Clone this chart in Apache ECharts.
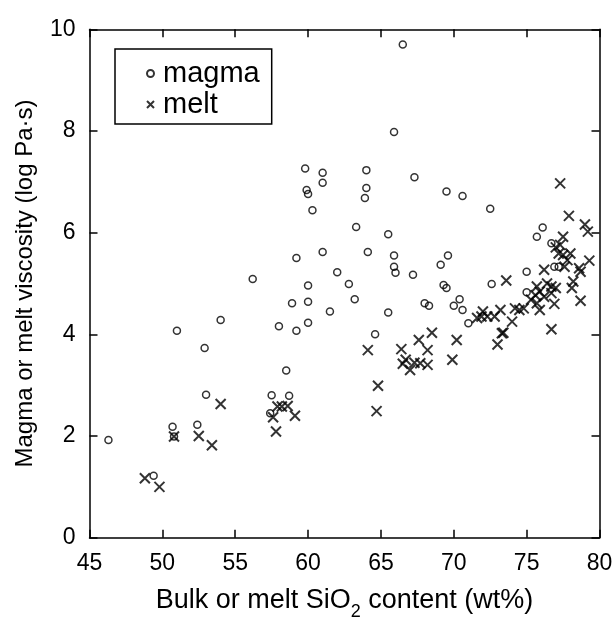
<!DOCTYPE html>
<html>
<head>
<meta charset="utf-8">
<script src="https://cdn.jsdelivr.net/npm/echarts@6/dist/echarts.min.js"></script>
<style>
  html, body { margin: 0; padding: 0; background: #fff; }
  #chart { width: 614px; height: 618px; }
</style>
</head>
<body>
<div id="chart"></div>
<script>
// magma: bulk SiO2 (wt%) vs viscosity (log Pa·s)
const magmaSiO2 = [46.3, 49.4, 50.7, 50.8, 52.4, 53.0, 52.9, 51.0, 54.0, 56.2,
    57.4, 57.5, 58.7, 58.5, 58.0, 59.2, 60.0, 58.9, 60.0, 60.0,
    62.0, 62.8, 63.2, 61.5, 65.5, 64.6, 66.0, 67.2, 65.9, 59.2,
    61.0, 64.1, 65.9, 63.3, 65.5, 60.3, 59.9, 60.0, 59.8, 61.0,
    61.0, 64.0, 64.0, 63.9, 65.9, 66.5, 67.3, 69.5, 70.6, 72.5,
    69.1, 69.6, 69.3, 69.5, 68.0, 68.3, 70.4, 70.0, 70.6, 71.0,
    72.6, 75.0, 75.0, 76.1, 75.7, 76.7, 76.9, 77.2]
const magmaVisc = [1.92, 1.22, 2.18, 1.99, 2.22, 2.81, 3.73, 4.07, 4.28, 5.09,
    2.45, 2.80, 2.79, 3.29, 4.16, 4.07, 4.23, 4.61, 4.64, 4.96,
    5.22, 4.99, 4.69, 4.45, 4.43, 4.00, 5.21, 5.17, 5.33, 5.50,
    5.62, 5.62, 5.55, 6.11, 5.97, 6.44, 6.84, 6.76, 7.26, 7.18,
    6.98, 7.23, 6.88, 6.68, 7.98, 9.70, 7.09, 6.81, 6.72, 6.47,
    5.37, 5.55, 4.97, 4.91, 4.61, 4.56, 4.69, 4.56, 4.48, 4.22,
    4.99, 5.23, 4.83, 6.10, 5.92, 5.79, 5.33, 5.33]

// melt: melt SiO2 (wt%) vs viscosity (log Pa·s)
const meltSiO2 = [48.8, 49.8, 50.8, 52.5, 53.4, 54.0, 57.6, 57.8, 57.9, 58.2,
    58.6, 59.1, 64.1, 64.8, 64.7, 66.4, 66.7, 66.5, 67.0, 67.3,
    67.6, 68.2, 68.2, 67.7, 68.5, 70.2, 69.9, 71.6, 71.9, 72.0,
    72.3, 72.8, 73.2, 73.0, 73.4, 73.3, 73.6, 74.0, 74.2, 74.5,
    74.8, 75.3, 75.7, 75.9, 75.6, 75.9, 76.2, 75.7, 76.4, 76.7,
    77.0, 76.7, 76.9, 76.7, 76.2, 77.0, 77.2, 77.5, 78.0, 77.8,
    77.6, 77.3, 77.5, 77.3, 77.9, 79.0, 79.2, 79.3, 78.7, 78.6,
    78.7, 78.2, 78.1]
const meltVisc = [1.17, 1.00, 1.99, 2.00, 1.82, 2.63, 2.37, 2.09, 2.58, 2.58,
    2.59, 2.40, 3.69, 2.99, 2.49, 3.71, 3.50, 3.42, 3.30, 3.44,
    3.89, 3.69, 3.40, 3.43, 4.03, 3.89, 3.50, 4.32, 4.35, 4.45,
    4.35, 4.35, 4.48, 3.80, 4.03, 4.02, 5.06, 4.25, 4.51, 4.48,
    4.51, 4.68, 4.61, 4.48, 4.77, 4.84, 4.74, 4.94, 5.00, 4.94,
    4.91, 4.81, 4.60, 4.10, 5.27, 5.71, 5.59, 5.56, 5.59, 5.46,
    5.33, 5.76, 5.92, 6.97, 6.33, 6.16, 6.02, 5.45, 4.66, 5.30,
    5.23, 5.04, 4.91]

const xTicks = [45, 50, 55, 60, 65, 70, 75, 80]
const yTicks = [0, 2, 4, 6, 8, 10]

const zip = (xs, ys) => xs.map((x, i) => [x, ys[i]])

const chart = echarts.init(document.getElementById('chart'))

const font = 'Liberation Sans, Arial, sans-serif'
const axisLine = { show: true, onZero: false, lineStyle: { color: '#000', width: 1.5 } }
const tickIn = { show: true, inside: true, length: 8, lineStyle: { color: '#000', width: 1.5 } }

const option = {
    backgroundColor: '#fff',
    animation: false,
    grid: { left: 89.5, right: 14.5, top: 29.3, bottom: 80.3, outerBoundsMode: 'none' },
    xAxis: [{
        type: 'value',
        min: xTicks[0], max: xTicks[xTicks.length - 1], interval: 5,
        axisLine, axisTick: tickIn,
        splitLine: { show: false },
        axisLabel: { color: '#000', fontSize: 23, fontFamily: font, margin: 14 },
        name: 'Bulk or melt SiO{sub|2} content (wt%)',
        nameLocation: 'middle', nameGap: 43,
        nameTextStyle: {
            color: '#000', fontSize: 27, fontFamily: font,
            rich: { sub: { fontSize: 18, fontFamily: font, color: '#000', padding: [22, 0, 0, 0] } }
        }
    }, {
        type: 'value', position: 'top',
        min: xTicks[0], max: xTicks[xTicks.length - 1], interval: 5,
        axisLine, axisTick: tickIn,
        splitLine: { show: false }, axisLabel: { show: false }
    }],
    yAxis: [{
        type: 'value',
        min: yTicks[0], max: yTicks[yTicks.length - 1], interval: 2,
        axisLine, axisTick: tickIn,
        splitLine: { show: false },
        axisLabel: { color: '#000', fontSize: 23, fontFamily: font, margin: 14 },
        name: 'Magma or melt viscosity (log Pa·s)',
        nameLocation: 'middle', nameGap: 52,
        nameTextStyle: { color: '#000', fontSize: 24, fontFamily: font }
    }, {
        type: 'value', position: 'right',
        min: yTicks[0], max: yTicks[yTicks.length - 1], interval: 2,
        axisLine, axisTick: tickIn,
        splitLine: { show: false }, axisLabel: { show: false }
    }],
    legend: {
        orient: 'vertical',
        left: 115, top: 49,
        padding: [10, 12, 5, 31],
        itemGap: 2,
        itemWidth: 7, itemHeight: 7,
        borderColor: '#000', borderWidth: 1.5,
        textStyle: { color: '#000', fontSize: 29, fontFamily: font, padding: [0, 0, 0, 4] },
        data: ['magma', 'melt']
    },
    series: [{
        name: 'magma',
        type: 'scatter',
        data: zip(magmaSiO2, magmaVisc),
        symbol: 'circle',
        symbolSize: 7,
        itemStyle: { color: 'rgba(255,255,255,0)', borderColor: '#000', borderWidth: 1.5 }
    }, {
        name: 'melt',
        type: 'scatter',
        data: zip(meltSiO2, meltVisc),
        symbol: 'path://M0,0L10,10M10,0L0,10',
        symbolSize: 10,
        itemStyle: { color: 'rgba(255,255,255,0)', borderColor: '#000', borderWidth: 2 }
    }]
}

chart.setOption(option)
</script>
</body>
</html>
